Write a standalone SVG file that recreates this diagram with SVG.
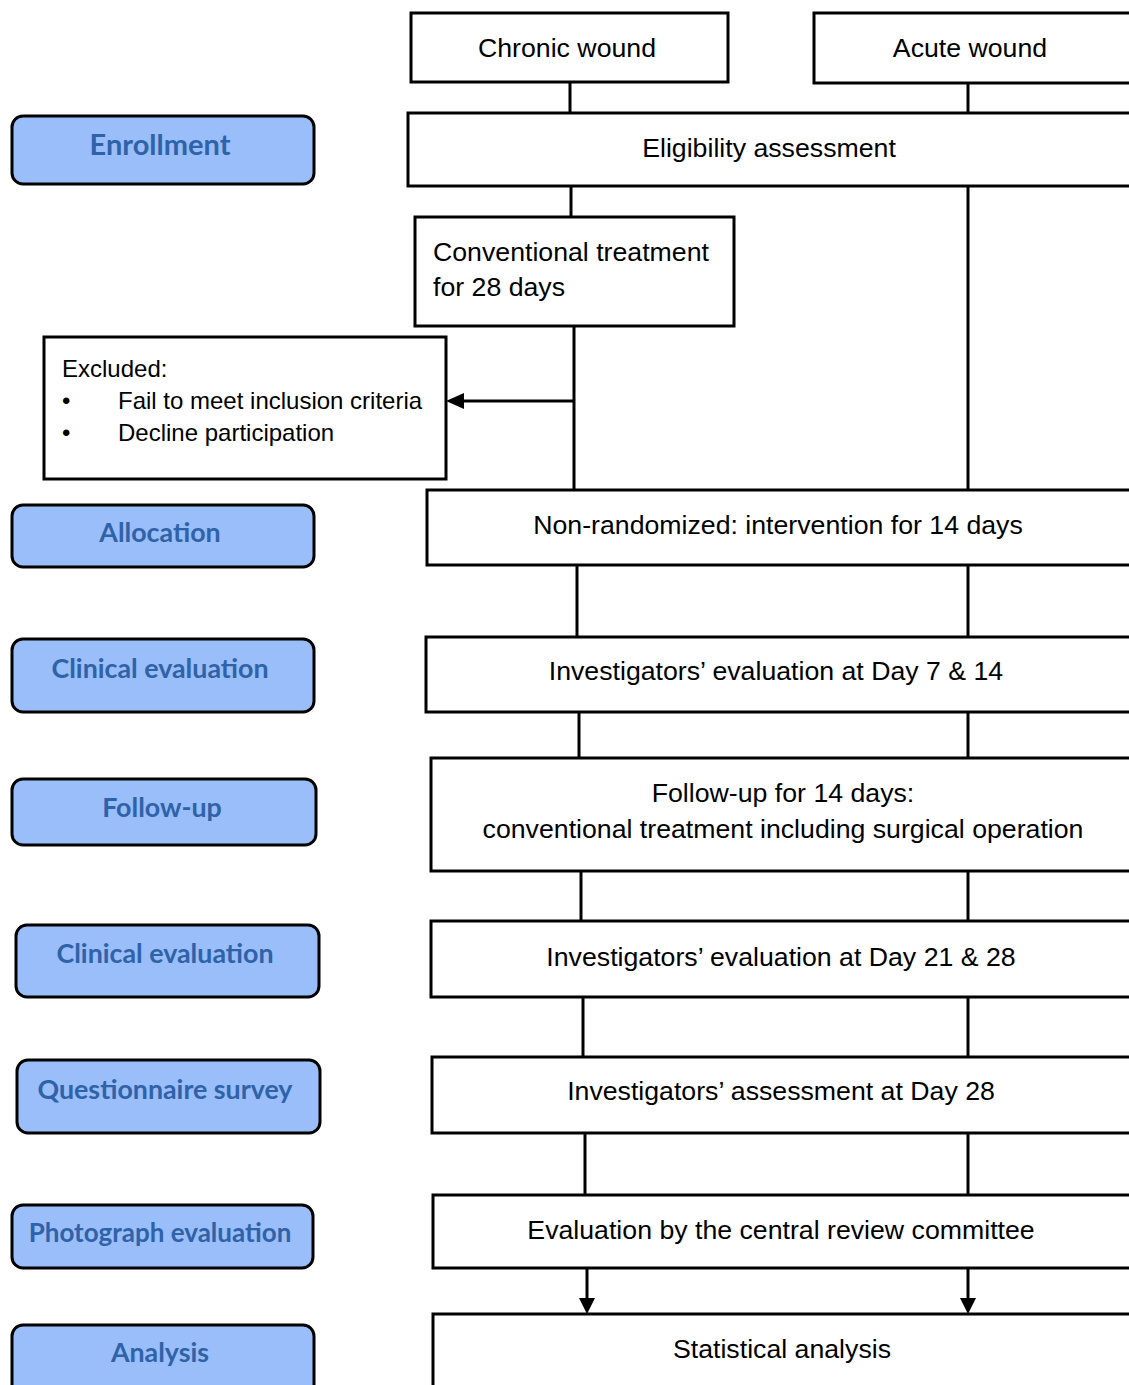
<svg xmlns="http://www.w3.org/2000/svg" width="1129" height="1385" viewBox="0 0 1129 1385">
<style>
.box{fill:#fff;stroke:#000;stroke-width:3}
.lab{fill:#99BEFA;stroke:#000;stroke-width:3}
.t{font-family:"Liberation Sans",Arial,sans-serif;font-size:26.7px;fill:#000}
.s{font-size:24px}
.m{text-anchor:middle}
.lt{font-family:Lato,"Open Sans",sans-serif;font-weight:bold;font-size:26.8px;fill:#2F62A8;text-anchor:middle}
.ln{stroke:#000;stroke-width:3;fill:none}
</style>
<g id="connectors">
<path class="ln" d="M570,82 V113"/>
<path class="ln" d="M968,83 V113"/>
<path class="ln" d="M571,186 V217"/>
<path class="ln" d="M968,186 V490"/>
<path class="ln" d="M574,326 V490"/>
<path class="ln" d="M575,401 H462"/>
<path d="M446,401 L464,393 L464,409 z" fill="#000"/>
<path class="ln" d="M577,565 V637"/>
<path class="ln" d="M968,565 V637"/>
<path class="ln" d="M579,712 V758"/>
<path class="ln" d="M968,712 V758"/>
<path class="ln" d="M581,871 V921"/>
<path class="ln" d="M968,871 V921"/>
<path class="ln" d="M583,997 V1057"/>
<path class="ln" d="M968,997 V1057"/>
<path class="ln" d="M585,1133 V1195"/>
<path class="ln" d="M968,1133 V1195"/>
<path class="ln" d="M587,1268 V1298"/>
<path d="M587,1314 L579,1298 L595,1298 z" fill="#000"/>
<path class="ln" d="M968,1268 V1298"/>
<path d="M968,1314 L960,1298 L976,1298 z" fill="#000"/>
</g>
<g id="chronic"><rect class="box" x="411" y="13" width="317" height="69"/><text class="t m" x="567" y="57">Chronic wound</text></g>
<g id="acute"><rect class="box" x="814" y="13" width="320" height="70"/><text class="t m" x="970" y="57">Acute wound</text></g>
<g id="eligibility"><rect class="box" x="408" y="113" width="726" height="73"/><text class="t m" x="769" y="157">Eligibility assessment</text></g>
<g id="conventional"><rect class="box" x="415" y="217" width="319" height="109"/><text class="t" x="433" y="261">Conventional treatment</text><text class="t" x="433" y="296">for 28 days</text></g>
<g id="excluded"><rect class="box" x="44" y="337" width="402" height="142"/><text class="t s" x="62" y="377">Excluded:</text><text class="t s" x="62" y="409">•</text><text class="t s" x="118" y="409">Fail to meet inclusion criteria</text><text class="t s" x="62" y="441">•</text><text class="t s" x="118" y="441">Decline participation</text></g>
<g id="nonrandom"><rect class="box" x="427" y="490" width="707" height="75"/><text class="t m" x="778" y="534">Non-randomized: intervention for 14 days</text></g>
<g id="eval714"><rect class="box" x="426" y="637" width="708" height="75"/><text class="t m" x="776" y="680">Investigators’ evaluation at Day 7 &amp; 14</text></g>
<g id="followup"><rect class="box" x="431" y="758" width="703" height="113"/><text class="t m" x="783" y="802">Follow-up for 14 days:</text><text class="t m" x="783" y="838">conventional treatment including surgical operation</text></g>
<g id="eval2128"><rect class="box" x="431" y="921" width="703" height="76"/><text class="t m" x="781" y="966">Investigators’ evaluation at Day 21 &amp; 28</text></g>
<g id="assess28"><rect class="box" x="432" y="1057" width="702" height="76"/><text class="t m" x="781" y="1100">Investigators’ assessment at Day 28</text></g>
<g id="central"><rect class="box" x="433" y="1195" width="701" height="73"/><text class="t m" x="781" y="1239">Evaluation by the central review committee</text></g>
<g id="stat"><rect class="box" x="433" y="1314" width="701" height="80"/><text class="t m" x="782" y="1358">Statistical analysis</text></g>
<g id="l-enroll"><rect class="lab" x="12" y="116" width="302" height="68" rx="11"/><text class="lt" x="160" y="155" style="font-size:29px">Enrollment</text></g>
<g id="l-alloc"><rect class="lab" x="12" y="505" width="302" height="62" rx="11"/><text class="lt" x="160" y="542">Allocation</text></g>
<g id="l-clin1"><rect class="lab" x="12" y="639" width="302" height="73" rx="11"/><text class="lt" x="160" y="678">Clinical evaluation</text></g>
<g id="l-follow"><rect class="lab" x="12" y="779" width="304" height="66" rx="11"/><text class="lt" x="162" y="817">Follow-up</text></g>
<g id="l-clin2"><rect class="lab" x="16" y="925" width="303" height="72" rx="11"/><text class="lt" x="165" y="963">Clinical evaluation</text></g>
<g id="l-quest"><rect class="lab" x="17" y="1060" width="303" height="73" rx="11"/><text class="lt" x="165" y="1099">Questionnaire survey</text></g>
<g id="l-photo"><rect class="lab" x="12" y="1205" width="301" height="63" rx="11"/><text class="lt" x="160" y="1242" style="font-size:26px">Photograph evaluation</text></g>
<g id="l-analysis"><rect class="lab" x="12" y="1325" width="302" height="75" rx="11"/><text class="lt" x="160" y="1362">Analysis</text></g>
</svg>
